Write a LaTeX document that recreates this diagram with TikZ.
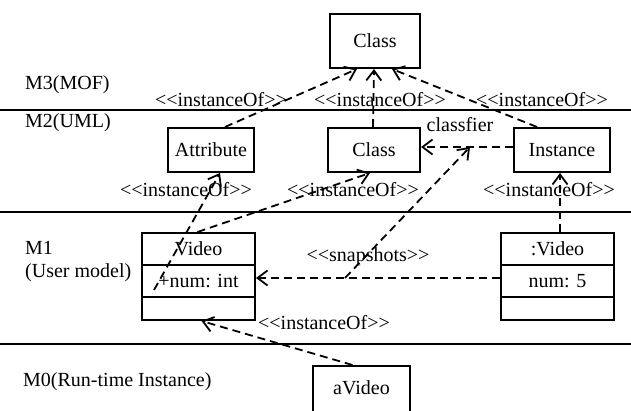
\documentclass[tikz,border=0pt]{standalone}
\usepackage{fontspec}
\setmainfont{Liberation Serif}
\usetikzlibrary{arrows.meta,calc}
\begin{document}
\begin{tikzpicture}[x=1pt,y=-1pt,
  every node/.style={font=\fontsize{20}{22}\selectfont},
  box/.style={draw, line width=2pt, inner sep=0pt},
  lbl/.style={inner sep=0pt},
  dep/.style={line width=1.8pt, dash pattern=on 8pt off 5pt,
    -{Straight Barb[length=10pt,width=15pt,line width=1.8pt]}},
  sep/.style={line width=2pt},
  cmp/.style={line width=1.6pt}]
\path[fill=white] (0,0) rectangle (631,411);
\useasboundingbox (0,0) rectangle (631,411);
\clip (0,0) rectangle (631,411);

% layer separators
\coordinate (l1a) at (0,110);  \coordinate (l1b) at (631,110);
\coordinate (l2a) at (0,212);  \coordinate (l2b) at (631,212);
\coordinate (l3a) at (0,344);  \coordinate (l3b) at (631,344);
\draw[sep] (l1a) -- (l1b);
\draw[sep] (l2a) -- (l2b);
\draw[sep] (l3a) -- (l3b);

% layer names
\node[lbl, anchor=west] (m3) at (25,85) {M3(MOF)};
\node[lbl, anchor=west] (m2) at (25,123) {M2(UML)};
\node[lbl, anchor=west] (m1) at (25,248) {M1};
\node[lbl, anchor=west] (m1b) at (25,273) {(User model)};
\node[lbl, anchor=west] (m0) at (23,382) {M0(Run-time Instance)};

% M3
\node[box, minimum width=90pt, minimum height=54pt] (mof) at (375,41) {Class};

% M2
\node[box, minimum width=86pt, minimum height=44pt] (attr) at (211,150) {Attribute};
\node[box, minimum width=92pt, minimum height=44pt] (cls) at (374,150) {Class};
\node[box, minimum width=96pt, minimum height=44pt] (inst) at (562,150) {Instance};

% M1 : Video class
\node[box, minimum width=113pt, minimum height=87pt] (video) at (198.5,276.5) {};
\draw[cmp] (video.west |- 0,265) -- (video.east |- 0,265);
\draw[cmp] (video.west |- 0,297) -- (video.east |- 0,297);
\node[lbl] (vname) at (198.5,249) {Video};
\node[lbl] (vattr) at (198.5,281) {+num: int};

% M1 : :Video instance
\node[box, minimum width=113pt, minimum height=87pt] (vobj) at (557.5,276.5) {};
\draw[cmp] (vobj.west |- 0,265) -- (vobj.east |- 0,265);
\draw[cmp] (vobj.west |- 0,297) -- (vobj.east |- 0,297);
\node[lbl] (oname) at (557.5,249) {:Video};
\node[lbl] (oattr) at (557.5,281) {num: 5};

% M0
\node[box, minimum width=97pt, minimum height=70pt, anchor=north] (avid) at (361.5,365) {};
\node[lbl] (avname) at (361.5,388) {aVideo};

% labels
\node[lbl] (io1) at (221,100) {<{}<instanceOf>{}>};
\node[lbl] (io2) at (380,100) {<{}<instanceOf>{}>};
\node[lbl] (io3) at (542,100) {<{}<instanceOf>{}>};
\node[lbl] (io4) at (186,190) {<{}<instanceOf>{}>};
\node[lbl] (io5) at (353,190) {<{}<instanceOf>{}>};
\node[lbl] (io6) at (549,190) {<{}<instanceOf>{}>};
\node[lbl] (io7) at (324,323) {<{}<instanceOf>{}>};
\node[lbl] (snap) at (368,257) {<{}<snapshots>{}>};
\node[lbl] (cf) at (460,125) {classfier};

% connectors
\draw[dep] ($(attr.north)+(14,0)$) -- ($(mof.south)+(-18,0)$);
\draw[dep] ($(cls.north)+(-1,0)$) -- ($(mof.south)+(-1,0)$);
\draw[dep] ($(inst.north)+(-25,0)$) -- ($(mof.south)+(17,0)$);
\coordinate (cfmid) at (470,147);
\draw[dep] (inst.west |- 0,147) -- (cls.east |- 0,147);
\coordinate (numstart) at (154,290);
\draw[dep] (numstart) -- ($(attr.south)+(9,0)$);
\draw[dep] ($(video.north)+(-1,0)$) -- ($(cls.south)+(-4,0)$);
\draw[dep] (vobj.west |- 0,278) -- (video.east |- 0,278);
\coordinate (snapbend) at (345,278);
\draw[dep] (snapbend) -- (cfmid);
\draw[dep] ($(vobj.north)+(2.5,0)$) -- ($(inst.south)+(-2,0)$);
\draw[dep] ($(avid.north)+(-9,0)$) -- ($(video.south)+(3,0)$);
\end{tikzpicture}
\end{document}
